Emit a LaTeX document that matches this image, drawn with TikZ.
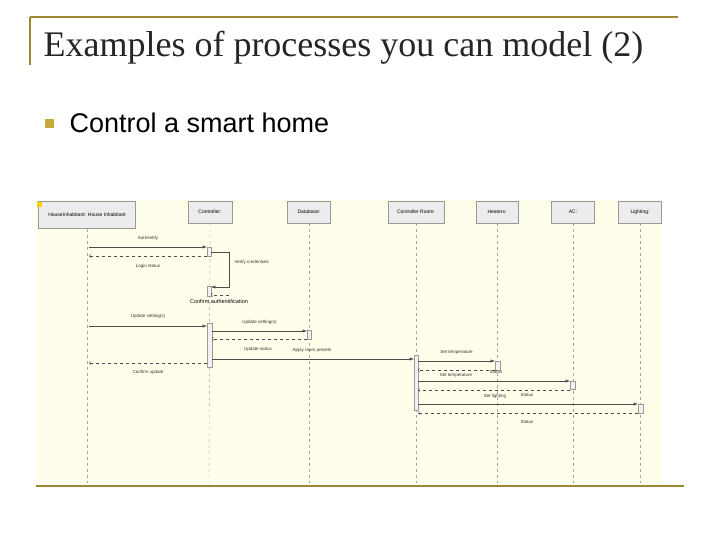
\documentclass[tikz,border=0pt]{standalone}
\usepackage{fontspec}
\setmainfont{Liberation Serif}
\setsansfont{Liberation Sans}
\begin{document}
\begin{tikzpicture}[x=1pt,y=-1pt,
  gold/.style={draw=gold!80!black,line width=1.2pt},
  life/.style={draw=gray!70,dashed,line width=0.4pt},
  obj/.style={draw=gray!80,fill=gray!15,minimum height=22pt,font=\sffamily\fontsize{5}{6}\selectfont,inner sep=1pt},
  act/.style={draw=gray!80,fill=gray!10},
  msg/.style={draw=gray!60!black,line width=0.5pt,-latex},
  ret/.style={draw=gray!60!black,dashed,line width=0.4pt,->},
  lab/.style={font=\sffamily\fontsize{4.5}{5}\selectfont,text=black!80}]
\definecolor{gold}{RGB}{200,170,60}
\useasboundingbox (0,0) rectangle (720,540);
\fill[white] (0,0) rectangle (720,540);
\draw[gold] (30,17) -- (678,17);
\draw[gold] (30,17) -- (30,65);
\draw[gold] (36,486) -- (684,486);
\node[anchor=west,font=\fontsize{36}{40}\selectfont,text=black!85] (title) at (40,48) {Examples of processes you can model (2)};
\node[fill=gold,minimum size=9pt,inner sep=0] (bul) at (49,124) {};
\node[anchor=west,font=\sffamily\fontsize{27}{30}\selectfont] (b1) at (66,123) {Control a smart home};
\fill[yellow!8] (36,200) rectangle (662,483);
% objects
\node[obj,minimum width=97pt,minimum height=27pt] (H) at (87,215) {HouseInhabitant: House Inhabitant};
\fill[yellow!70!orange] (37,202) rectangle (42,207);
\node[obj,minimum width=44pt] (C) at (210,212) {Controller:};
\node[obj,minimum width=43pt] (D) at (309,212) {Database:};
\node[obj,minimum width=56pt] (R) at (416,212) {Controller Room:};
\node[obj,minimum width=42pt] (Ht) at (497,212) {Heaters:};
\node[obj,minimum width=43pt] (A) at (573,212) {AC:};
\node[obj,minimum width=43pt] (L) at (640,212) {Lighting:};
\foreach \n/\x in {H/87,C/209,D/309,R/416,Ht/497,A/573,L/640}
  \draw[life] (\n.south) -- (\x,483);
% activations
\draw[act] (207,247) rectangle (211,256);
\draw[act] (207,286) rectangle (211,296);
\draw[act] (207,323) rectangle (212,367);
\draw[act] (307,330) rectangle (311,339);
\draw[act] (414,355) rectangle (418,410);
\draw[act] (495,361) rectangle (500,370);
\draw[act] (570,381) rectangle (575,389);
\draw[act] (638,404) rectangle (643,413);
% messages
\draw[msg] (89,247) -- node[lab,above=3pt]{Authentify} (207,247);
\draw[ret] (207,256) -- node[lab,below=5pt]{Login status} (89,256);
\draw[msg] (211,252) -- (229,252) -- node[lab,right=2pt,pos=0.3]{Verify credentials} (229,287) -- (211,287);
\draw[ret] (229,295) -- (211,295);
\node[font=\sffamily\fontsize{5.5}{6}\selectfont] (ca) at (219,302) {Confirm authentification};
\draw[msg] (89,326) -- node[lab,above=4pt]{Update setting(s)} (207,326);
\draw[msg] (212,331) -- node[lab,above=3pt]{Update setting(s)} (307,331);
\draw[ret] (307,339) -- (212,339);
\node[lab] (us) at (258,349) {Update status};
\node[lab] (ap) at (312,350) {Apply room presets};
\draw[msg] (212,359) -- (414,359);
\draw[ret] (207,363) -- node[lab,below=4pt]{Confirm update} (89,363);
\draw[msg] (418,361) -- node[lab,above=3pt]{Set temperature} (495,361);
\draw[ret] (495,370) -- (418,370);
\node[lab] (s1) at (496,372) {Status};
\draw[msg] (418,381) -- node[lab,above=0pt,pos=0.25]{Set temperature} (570,381);
\draw[ret] (570,390) -- (418,390);
\node[lab] (s2) at (527,395) {Status};
\draw[msg] (418,404) -- node[lab,above=2pt,pos=0.35]{Set lighting} (638,404);
\draw[ret] (638,413) -- (418,413);
\node[lab] (s3) at (527,422) {Status};
\end{tikzpicture}
\end{document}
